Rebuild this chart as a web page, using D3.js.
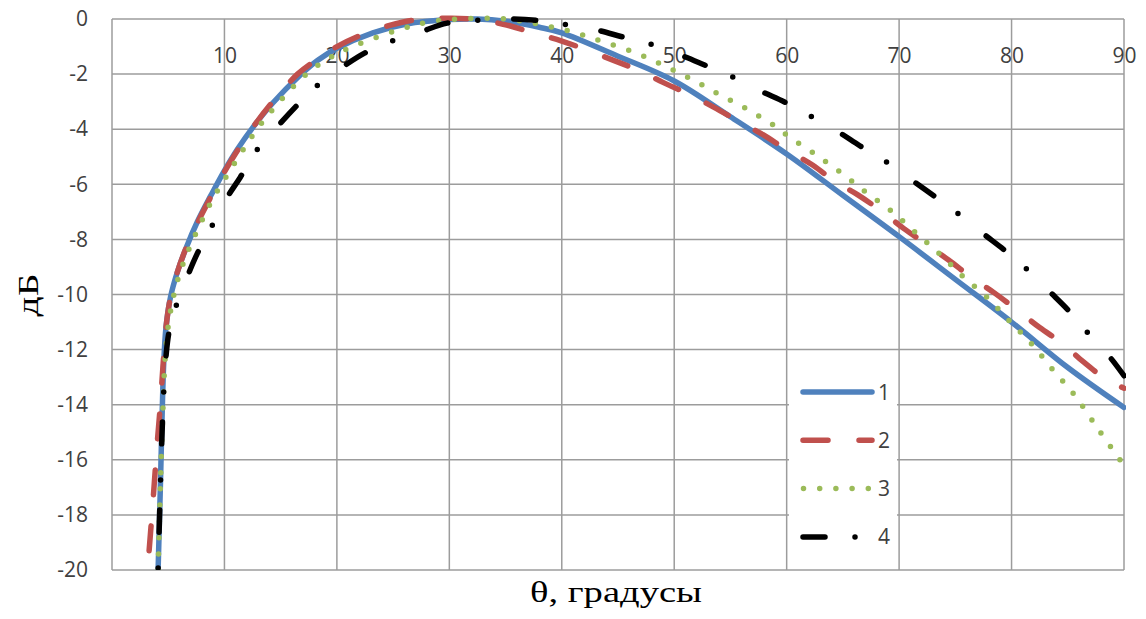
<!DOCTYPE html>
<html><head><meta charset="utf-8">
<script src="https://cdn.jsdelivr.net/npm/d3@7"></script>
<style>html,body{margin:0;padding:0;background:#fff;}</style>
</head><body>
<svg id="chart" width="1146" height="619"></svg>
<script>
// ---- data ----
const xTicks = [10, 20, 30, 40, 50, 60, 70, 80, 90];
const yTicks = [0, -2, -4, -6, -8, -10, -12, -14, -16, -18, -20];
const seriesNames = ["1", "2", "3", "4"];

const theta1 = [4.1, 4.3, 4.45, 4.6, 4.8, 5.2, 5.8, 6.6, 7.6, 8.8, 10, 11.2, 12.5, 14.3, 16.7, 18.3, 20, 23.2, 26.2, 30, 32.5, 35, 38, 40, 45, 50, 55, 60, 65, 70, 75, 80, 85, 90];
const db1    = [-20, -17, -14.5, -12.5, -11.2, -10.1, -9.2, -8.3, -7.35, -6.4, -5.5, -4.7, -3.95, -3.05, -2.05, -1.5, -1.06, -0.5, -0.18, -0.02, 0, -0.08, -0.3, -0.5, -1.35, -2.25, -3.55, -4.9, -6.4, -7.9, -9.45, -11.0, -12.65, -14.1];

const theta2 = [3.3, 3.7, 4.0, 4.3, 4.55, 4.8, 5.2, 5.8, 6.6, 7.6, 8.8, 10, 11.2, 12.5, 14.3, 16.5, 18.3, 20, 23, 26, 28, 32, 35.1, 37.4, 40, 44.6, 47, 49, 51.4, 53.5, 55.9, 57.9, 60, 62.3, 64.3, 66.4, 68.5, 70.4, 72.5, 74.4, 76.5, 78.5, 80.6, 82.5, 84.6, 86.4, 88.5, 90];
const db2    = [-19.3, -17.2, -15.5, -14, -12.5, -11.2, -10.1, -9.2, -8.3, -7.4, -6.45, -5.55, -4.75, -3.95, -3.0, -2.0, -1.45, -1.0, -0.45, -0.1, 0, 0, -0.22, -0.5, -0.8, -1.5, -1.9, -2.3, -2.75, -3.2, -3.75, -4.2, -4.75, -5.3, -5.9, -6.4, -7.0, -7.6, -8.2, -8.75, -9.4, -9.95, -10.6, -11.2, -11.8, -12.45, -13.1, -13.4];

const theta3 = [4.1, 4.3, 4.5, 4.7, 4.95, 5.4, 6.05, 6.9, 7.9, 9.0, 10.2, 11.5, 12.9, 14.9, 17.3, 19.2, 21.4, 25.6, 28.3, 31, 35, 38.3, 41.2, 43.7, 46.4, 49, 51.6, 54.1, 56.6, 59, 60.3, 62.5, 64.9, 67.1, 69.4, 71.6, 73.8, 75.7, 77.8, 79.9, 81.8, 83.6, 85.5, 87.9, 90];
const db3    = [-20, -17, -14.5, -12.5, -11.3, -10.2, -9.2, -8.3, -7.4, -6.5, -5.7, -4.85, -4.0, -3.0, -2.0, -1.45, -1.0, -0.38, -0.1, 0, 0, -0.22, -0.5, -0.83, -1.2, -1.67, -2.2, -2.76, -3.3, -3.9, -4.3, -4.9, -5.6, -6.3, -7.0, -7.8, -8.6, -9.35, -10.1, -11.0, -11.8, -12.7, -13.6, -15.0, -16.2];

const theta4 = [4.1, 4.3, 4.5, 4.75, 5.1, 5.8, 6.7, 7.6, 8.9, 10.2, 11.4, 12.9, 14.5, 16.3, 18.2, 20.3, 22.5, 24.9, 27.4, 29.8, 32.5, 35.2, 37.8, 40.3, 43.1, 45.4, 48, 50.5, 52.7, 55.2, 57.6, 60, 62.3, 64.6, 66.5, 68.9, 71.3, 73.2, 75.3, 77.5, 79.4, 81.4, 83.4, 85, 86.8, 88.8, 90];
const db4    = [-20, -17, -14.5, -12.5, -11.3, -10.3, -9.35, -8.5, -7.5, -6.5, -5.75, -4.75, -4.0, -3.2, -2.43, -1.8, -1.23, -0.8, -0.47, -0.15, -0.05, 0, -0.05, -0.2, -0.4, -0.65, -0.92, -1.3, -1.67, -2.1, -2.6, -3.05, -3.56, -4.1, -4.6, -5.2, -5.9, -6.45, -7.08, -7.8, -8.4, -9.1, -9.9, -10.55, -11.4, -12.3, -12.95];

// ---- styles ----
const styles = [
  {color: "#4F81BD", width: 5.5, dash: null, offset: 0},
  {color: "#C0504D", width: 5.5, dash: "25 31", offset: 0},
  {color: "#9BBB59", width: 5.5, dash: "0 16.2", offset: 0},
  {color: "#000000", width: 5.5, dash: "22 30 0 36", offset: 50}
];
const series = [
  theta1.map((t, i) => [t, db1[i]]),
  theta2.map((t, i) => [t, db2[i]]),
  theta3.map((t, i) => [t, db3[i]]),
  theta4.map((t, i) => [t, db4[i]])
];

const svg = d3.select("#chart");
const L = 112, R = 1124, T = 19, B = 570;
const x = d3.scaleLinear().domain([0, 90]).range([L, R]);
const y = d3.scaleLinear().domain([-20, 0]).range([B, T]);
const grid = "#9c9c9c";
const tickFont = "'Open Sans', sans-serif";

// grid
svg.append("g").selectAll("line").data(yTicks).join("line")
  .attr("x1", L).attr("x2", R).attr("y1", d => y(d)).attr("y2", d => y(d))
  .attr("stroke", grid).attr("stroke-width", 1.5);
svg.append("g").selectAll("line").data([0].concat(xTicks)).join("line")
  .attr("y1", T).attr("y2", B).attr("x1", d => x(d)).attr("x2", d => x(d))
  .attr("stroke", grid).attr("stroke-width", 1.5);

// y axis labels
const yAxis = d3.axisLeft(y).tickValues(yTicks).tickSize(0).tickPadding(24).tickFormat(d => String(d));
const gy = svg.append("g").attr("transform", `translate(${L},0)`).call(yAxis);
gy.select(".domain").remove();
gy.selectAll("text").attr("font-family", tickFont).attr("font-size", 21).attr("fill", "#404040");

// x axis labels (near top)
const xAxis = d3.axisBottom(x).tickValues(xTicks).tickSize(0).tickPadding(0);
const gx = svg.append("g").attr("transform", `translate(0,${T})`).call(xAxis);
gx.select(".domain").remove();
gx.selectAll("text").attr("y", 44).attr("dy", null)
  .attr("font-family", tickFont).attr("font-size", 21).attr("fill", "#404040");

// curves
const line = d3.line().x(d => x(d[0])).y(d => y(d[1])).curve(d3.curveCatmullRom.alpha(0.5));
svg.append("defs").append("clipPath").attr("id", "clip").append("rect")
  .attr("x", L - 10).attr("y", T - 10).attr("width", R - L + 12).attr("height", B - T + 10);
const gLines = svg.append("g").attr("clip-path", "url(#clip)");
series.forEach((s, i) => {
  const st = styles[i];
  gLines.append("path").datum(s).attr("d", line)
    .attr("fill", "none").attr("stroke", st.color).attr("stroke-width", st.width)
    .attr("stroke-linecap", "round").attr("stroke-linejoin", "round")
    .attr("stroke-dasharray", st.dash).attr("stroke-dashoffset", st.offset);
});

// legend
const lg = svg.append("g");
lg.append("rect").attr("x", 789).attr("y", 366).attr("width", 108).attr("height", 196).attr("fill", "#fff");
seriesNames.forEach((n, i) => {
  const yy = 392 + i * 48.3;
  const st = styles[i];
  const x1 = i === 2 ? 803.5 : 803;
  lg.append("line").attr("x1", x1).attr("x2", 872).attr("y1", yy).attr("y2", yy)
    .attr("stroke", st.color).attr("stroke-width", st.width).attr("stroke-linecap", "round")
    .attr("stroke-dasharray", st.dash);
  lg.append("text").attr("x", 878).attr("y", yy + 7.5).text(n)
    .attr("font-family", tickFont).attr("font-size", 21).attr("fill", "#404040");
});

// axis titles
svg.append("text").attr("transform", "translate(38,295) rotate(-90)").attr("text-anchor", "middle")
  .attr("font-family", "'Liberation Serif', 'Times New Roman', serif").attr("font-size", 29).attr("fill", "#000")
  .attr("textLength", 43).attr("lengthAdjust", "spacingAndGlyphs")
  .text("дБ");
svg.append("text").attr("x", 616).attr("y", 602).attr("text-anchor", "middle")
  .attr("font-family", "'Liberation Serif', 'Times New Roman', serif").attr("font-size", 30).attr("fill", "#000")
  .attr("textLength", 172).attr("lengthAdjust", "spacingAndGlyphs")
  .text("θ, градусы");
</script>
</body></html>
